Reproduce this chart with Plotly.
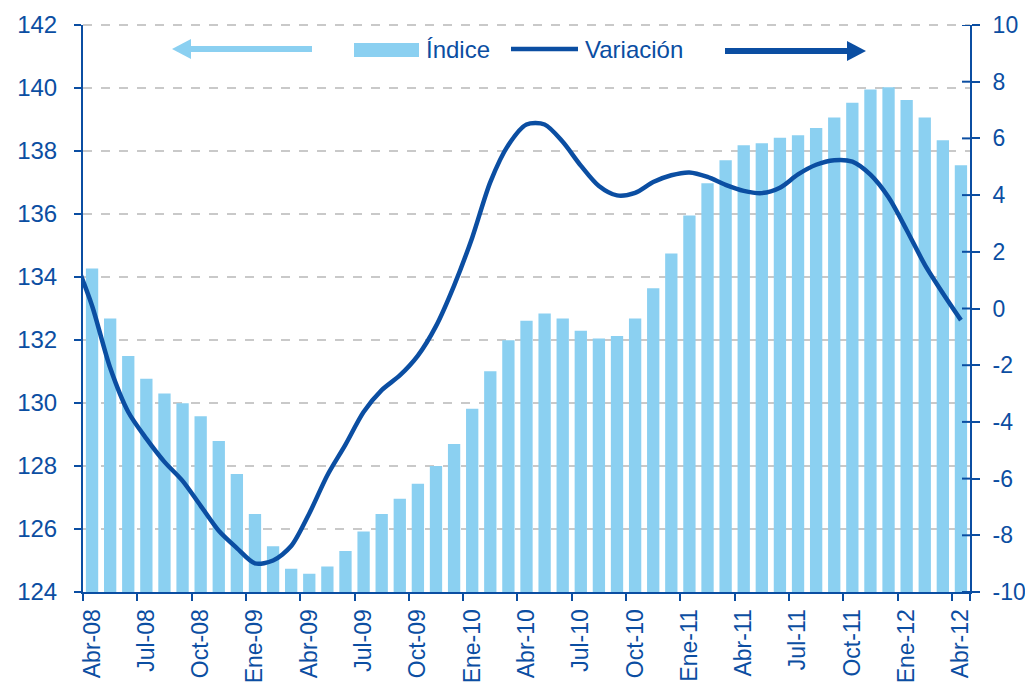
import plotly.graph_objects as go

BLUE = "#0B4EA2"
LIGHT = "#8BD0F1"
FONT = "Arial, Liberation Sans, sans-serif"

# ── Data ─────────────────────────────────────────────────────────────────
months = [
    "Mar-08", "Abr-08", "May-08", "Jun-08", "Jul-08", "Ago-08", "Sep-08", "Oct-08", "Nov-08", "Dic-08",
    "Ene-09", "Feb-09", "Mar-09", "Abr-09", "May-09", "Jun-09", "Jul-09", "Ago-09", "Sep-09", "Oct-09", "Nov-09", "Dic-09",
    "Ene-10", "Feb-10", "Mar-10", "Abr-10", "May-10", "Jun-10", "Jul-10", "Ago-10", "Sep-10", "Oct-10", "Nov-10", "Dic-10",
    "Ene-11", "Feb-11", "Mar-11", "Abr-11", "May-11", "Jun-11", "Jul-11", "Ago-11", "Sep-11", "Oct-11", "Nov-11", "Dic-11",
    "Ene-12", "Feb-12", "Mar-12", "Abr-12",
]
bar_months = months[1:]  # bars start in Abr-08

indice = [
    134.27, 132.68, 131.49, 130.77, 130.30, 129.99, 129.58, 128.79, 127.75,
    126.48, 125.45, 124.74, 124.58, 124.81, 125.30, 125.92, 126.48, 126.96, 127.44, 128.00, 128.70,
    129.82, 131.01, 131.99, 132.61, 132.84, 132.68, 132.29, 132.05, 132.13, 132.68, 133.64, 134.75,
    135.95, 136.98, 137.71, 138.18, 138.25, 138.42, 138.50, 138.73, 139.06, 139.53, 139.95, 140.02,
    139.62, 139.06, 138.34, 137.55,
]

# variación (right axis); first point (Mar-08) lies outside the plotted range
variacion = [
    1.8, 0.1, -2.09, -3.65, -4.59, -5.41, -6.08, -6.96, -7.84, -8.45,
    -8.99, -8.89, -8.38, -7.23, -5.88, -4.80, -3.65, -2.88, -2.36, -1.66, -0.62, 0.81,
    2.5, 4.46, 5.77, 6.49, 6.49, 5.88, 5.04, 4.32, 3.99, 4.08, 4.46, 4.70,
    4.80, 4.64, 4.36, 4.15, 4.07, 4.26, 4.73, 5.07, 5.23, 5.18, 4.72, 3.92,
    2.77, 1.55, 0.54, -0.41,
]

tick_months = ["Abr-08", "Jul-08", "Oct-08", "Ene-09", "Abr-09", "Jul-09", "Oct-09", "Ene-10", "Abr-10",
               "Jul-10", "Oct-10", "Ene-11", "Abr-11", "Jul-11", "Oct-11", "Ene-12", "Abr-12"]

right_ticks = [-10, -8, -6, -4, -2, 0, 2, 4, 6, 8, 10]
right_labels = ["-10", "-8", "-6", "-4", "-2", "0", "2", "4", "6", "8", "10"]

# plot area in page pixels; the page body adds 8px on every side,
# so the figure is kept 16px smaller than the window to avoid scrollbars
OFF = 8
W, H = 1033 - 2 * OFF, 694 - 2 * OFF
L, R, T, B = 83, 970, 25, 592


def px(x):
    return (x - L) / (R - L)


def py(y):
    return (B - y) / (B - T)


fig = go.Figure()

fig.add_trace(go.Bar(
    x=bar_months, y=indice, name="Índice",
    marker=dict(color=LIGHT, line=dict(width=0)),
))

fig.add_trace(go.Scatter(
    x=months, y=variacion, name="Variación", yaxis="y2",
    mode="lines", line=dict(color=BLUE, width=4.5, shape="spline", smoothing=0.8),
))

# ── Legend with arrows (drawn by hand) ───────────────────────────────────
shapes = [
    # top gridline (142)
    dict(type="line", xref="paper", yref="paper", x0=0, x1=1, y0=1, y1=1, layer="below",
         line=dict(color="#C9C9C9", width=2, dash="dash")),
    # left arrow (Índice -> left axis)
    dict(type="line", xref="paper", yref="paper", x0=px(189), x1=px(312), y0=py(49), y1=py(49),
         line=dict(color=LIGHT, width=6)),
    dict(type="path", xref="paper", yref="paper",
         path=f"M {px(172)},{py(49)} L {px(191)},{py(39)} L {px(191)},{py(59)} Z",
         fillcolor=LIGHT, line=dict(width=0)),
    # bar swatch
    dict(type="rect", xref="paper", yref="paper", x0=px(354), x1=px(419), y0=py(57), y1=py(43),
         fillcolor=LIGHT, line=dict(width=0)),
    # line swatch
    dict(type="line", xref="paper", yref="paper", x0=px(511), x1=px(578), y0=py(49), y1=py(49),
         line=dict(color=BLUE, width=4.5)),
    # right arrow (Variación -> right axis)
    dict(type="line", xref="paper", yref="paper", x0=px(725), x1=px(849), y0=py(51), y1=py(51),
         line=dict(color=BLUE, width=6)),
    dict(type="path", xref="paper", yref="paper",
         path=f"M {px(866)},{py(51)} L {px(847)},{py(41)} L {px(847)},{py(61)} Z",
         fillcolor=BLUE, line=dict(width=0)),
]

# inner half of the crossing ticks on the right axis
for v in right_ticks:
    shapes.append(dict(type="line", xref="paper", yref="y2", x0=px(962), x1=1, y0=v, y1=v,
                       line=dict(color=BLUE, width=2)))

annotations = [
    dict(text="Índice", xref="paper", yref="paper", x=px(424), y=py(49), xanchor="left", yanchor="middle",
         showarrow=False, font=dict(family=FONT, size=24, color=BLUE)),
    dict(text="Variación", xref="paper", yref="paper", x=px(583), y=py(49), xanchor="left", yanchor="middle",
         showarrow=False, font=dict(family=FONT, size=24, color=BLUE)),
]

fig.update_layout(
    width=W, height=H,
    margin=dict(l=L - OFF, r=W - (R - OFF), t=T - OFF, b=H - (B - OFF)),
    paper_bgcolor="white", plot_bgcolor="white",
    showlegend=False,
    bargap=0.32,
    font=dict(family=FONT, color=BLUE),
    shapes=shapes,
    annotations=annotations,
    xaxis=dict(
        type="category", categoryorder="array", categoryarray=months,
        range=[0.5, len(months) - 0.5], automargin=False,
        tickmode="array", tickvals=tick_months, ticktext=tick_months,
        tickson="boundaries", ticks="outside", ticklen=7, tickwidth=2, tickcolor=BLUE,
        tickangle=-90, tickfont=dict(family=FONT, size=23, color=BLUE), ticklabelstandoff=6,
        showline=True, linecolor=BLUE, linewidth=2, showgrid=False,
    ),
    yaxis=dict(
        range=[124, 142], dtick=2, tick0=124, automargin=False,
        ticks="outside", ticklen=7, tickwidth=2, tickcolor=BLUE,
        tickfont=dict(family=FONT, size=24, color=BLUE), ticklabelstandoff=12,
        showline=True, linecolor=BLUE, linewidth=2,
        showgrid=True, gridcolor="#C9C9C9", gridwidth=2, griddash="dash",
        zeroline=False,
    ),
    yaxis2=dict(
        range=[-10, 10], overlaying="y", side="right", automargin=False,
        tickmode="array", tickvals=right_ticks, ticktext=right_labels,
        ticks="outside", ticklen=8, tickwidth=2, tickcolor=BLUE,
        tickfont=dict(family=FONT, size=23, color=BLUE), ticklabelstandoff=8,
        showline=True, linecolor=BLUE, linewidth=2,
        showgrid=False, zeroline=False,
    ),
)

fig.write_html("out.html")
